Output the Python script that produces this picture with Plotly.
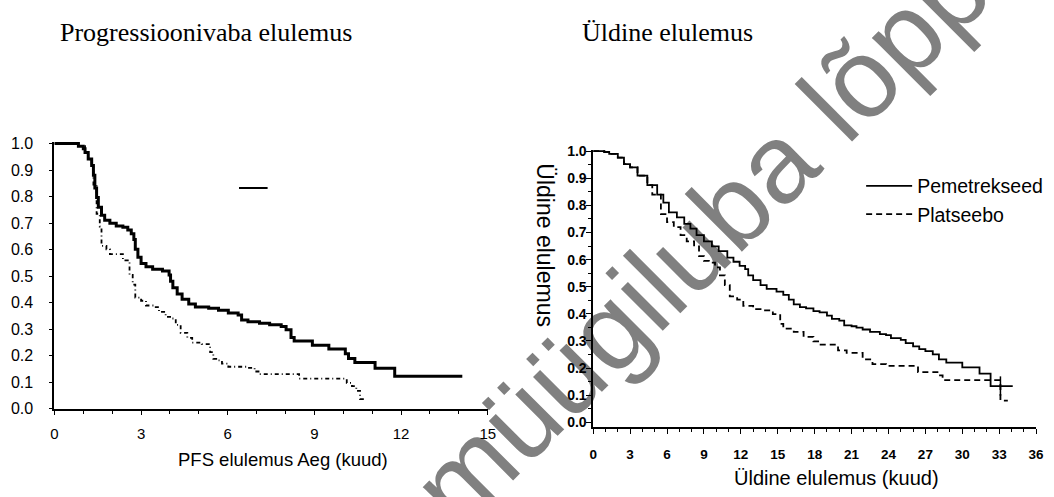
import plotly.graph_objects as go

# ---------------- data ----------------
# Progression-free survival (left panel)
pfs_pem_t = [0, 0.83, 1.0, 1.06, 1.17, 1.29, 1.35, 1.40, 1.46, 1.52,
             1.63, 1.74, 1.92, 2.14, 2.37, 2.54, 2.66, 2.75, 2.80, 2.89,
             3.0, 3.17, 3.4, 3.74, 3.97, 4.02, 4.1, 4.25, 4.42, 4.65,
             4.88, 5.34, 5.68, 6.02, 6.36, 6.48, 6.7, 7.1, 7.45, 7.85,
             8.02, 8.19, 8.3, 8.93, 9.5, 10.07, 10.18, 10.4, 11.1, 11.78,
             14.12]
pfs_pem_s = [1.0, 0.99, 0.98, 0.966, 0.942, 0.917, 0.88, 0.832, 0.796, 0.76,
             0.729, 0.711, 0.699, 0.689, 0.684, 0.674, 0.66, 0.638, 0.601, 0.571,
             0.547, 0.535, 0.526, 0.519, 0.504, 0.48, 0.456, 0.432, 0.413, 0.395,
             0.383, 0.379, 0.371, 0.361, 0.353, 0.334, 0.328, 0.322, 0.316, 0.31,
             0.298, 0.268, 0.255, 0.239, 0.225, 0.207, 0.189, 0.174, 0.152, 0.122,
             0.122]

pfs_pla_t = [0, 0.83, 1.06, 1.17, 1.29, 1.35, 1.46, 1.57, 1.63, 1.8,
             1.92, 2.37, 2.54, 2.6, 2.71, 2.8, 3.0, 3.17, 3.46, 3.62,
             3.85, 4.08, 4.2, 4.37, 4.6, 4.77, 5.1, 5.39, 5.5, 5.68,
             5.8, 6.02, 6.7, 6.93, 7.1, 8.47, 10.12, 10.3, 10.45, 10.58,
             10.8]
pfs_pla_s = [1.0, 0.99, 0.966, 0.94, 0.91, 0.845, 0.735, 0.687, 0.614, 0.601,
             0.583, 0.559, 0.553, 0.504, 0.468, 0.419, 0.407, 0.389, 0.383, 0.365,
             0.346, 0.34, 0.316, 0.286, 0.267, 0.249, 0.243, 0.213, 0.188, 0.182,
             0.17, 0.158, 0.154, 0.14, 0.13, 0.113, 0.097, 0.085, 0.067, 0.036,
             0.036]

# Overall survival (right panel)
os_pem_t = [0, 0.9, 1.3, 2.0, 2.5, 3.0, 3.6, 4.4, 5.2, 5.7,
            6.15, 6.8, 7.4, 7.9, 8.4, 9.0, 9.65, 10.2, 10.9, 11.4,
            11.9, 12.35, 12.6, 13.0, 13.6, 14.1, 14.9, 15.45, 15.9, 16.3,
            16.8, 17.3, 17.9, 18.4, 19.0, 19.4, 20.0, 20.4, 21.0, 21.4,
            21.9, 22.5, 23.3, 23.8, 24.2, 25.0, 25.4, 26.0, 26.5, 27.0,
            27.6, 28.1, 28.7, 30.0, 31.4, 32.3, 34.1]
os_pem_s = [1.0, 0.997, 0.99, 0.976, 0.952, 0.94, 0.91, 0.875, 0.84, 0.81,
            0.774, 0.756, 0.732, 0.714, 0.69, 0.667, 0.649, 0.631, 0.607, 0.592,
            0.577, 0.565, 0.542, 0.524, 0.506, 0.492, 0.482, 0.47, 0.452, 0.435,
            0.425, 0.42, 0.41, 0.405, 0.393, 0.381, 0.375, 0.357, 0.354, 0.349,
            0.342, 0.333, 0.325, 0.321, 0.31, 0.304, 0.292, 0.28, 0.27, 0.262,
            0.25, 0.232, 0.22, 0.202, 0.179, 0.133, 0.133]

os_pla_t = [0, 0.9, 1.3, 2.0, 2.5, 3.0, 3.6, 4.4, 4.8, 5.5,
            6.0, 6.55, 7.1, 7.6, 8.2, 8.6, 9.0, 9.4, 9.9, 10.3,
            10.7, 11.1, 11.7, 12.2, 13.0, 13.6, 14.6, 15.2, 15.45, 16.3,
            17.1, 17.9, 18.4, 19.9, 20.6, 21.9, 22.7, 23.8, 26.4, 28.1,
            28.4, 33.1, 33.7]
os_pla_s = [1.0, 0.997, 0.99, 0.976, 0.952, 0.94, 0.91, 0.875, 0.84, 0.768,
            0.738, 0.72, 0.69, 0.667, 0.649, 0.613, 0.595, 0.589, 0.571, 0.542,
            0.506, 0.464, 0.452, 0.429, 0.417, 0.413, 0.399, 0.363, 0.345, 0.333,
            0.315, 0.298, 0.286, 0.265, 0.256, 0.232, 0.214, 0.208, 0.185, 0.173,
            0.155, 0.08, 0.08]

os_censor_t = [33.1]
os_censor_s = [0.133]

pfs_ticks = [0, 3, 6, 9, 12, 15]
os_ticks = [0, 3, 6, 9, 12, 15, 18, 21, 24, 27, 30, 33, 36]
y_ticks = [0.0, 0.1, 0.2, 0.3, 0.4, 0.5, 0.6, 0.7, 0.8, 0.9, 1.0]

series_names = ["Pemetrekseed", "Platseebo"]
title_left = "Progressioonivaba elulemus"
title_right = "Üldine elulemus"
xlabel_left = "PFS elulemus Aeg (kuud)"
xlabel_right = "Üldine elulemus (kuud)"
ylabel_right = "Üldine elulemus"
watermark = "müügiluba lõppenud"

# ---------------- figure ----------------
W, H = 1054, 497
SANS = "Liberation Sans, Arial, sans-serif"
SERIF = "Liberation Serif, Times New Roman, serif"

def px(x):
    return x / W

def py(y):
    return 1 - y / H

fig = go.Figure()

fig.add_trace(go.Scatter(x=pfs_pem_t, y=pfs_pem_s, mode="lines", line_shape="hv",
                         line=dict(color="black", width=3), showlegend=False,
                         xaxis="x", yaxis="y"))
fig.add_trace(go.Scatter(x=pfs_pla_t, y=pfs_pla_s, mode="lines", line_shape="hv",
                         line=dict(color="black", width=1.8, dash="4px,3px,1px,3px"),
                         showlegend=False, xaxis="x", yaxis="y"))

fig.add_trace(go.Scatter(x=os_pem_t, y=os_pem_s, mode="lines", line_shape="hv",
                         name=series_names[0],
                         line=dict(color="black", width=1.8), xaxis="x2", yaxis="y2"))
fig.add_trace(go.Scatter(x=os_pla_t, y=os_pla_s, mode="lines", line_shape="hv",
                         name=series_names[1],
                         line=dict(color="black", width=1.8, dash="6px,4px"),
                         xaxis="x2", yaxis="y2"))
fig.add_trace(go.Scatter(x=os_censor_t, y=os_censor_s, mode="markers",
                         marker=dict(symbol="line-ns", size=14,
                                     line=dict(color="black", width=1.5)),
                         showlegend=False, xaxis="x2", yaxis="y2"))

axis_common = dict(showgrid=False, zeroline=False, showline=True, linecolor="black",
                   ticks="outside", tickcolor="black")

fig.update_layout(
    width=W, height=H,
    margin=dict(l=0, r=0, t=0, b=0),
    paper_bgcolor="white", plot_bgcolor="rgba(0,0,0,0)",
    xaxis=dict(domain=[px(51), px(489.3)], range=[0, 15], anchor="y",
               tickvals=pfs_ticks, ticklen=4, tickwidth=1.2, linewidth=2,
               minor=dict(dtick=1, ticklen=3, ticks="outside", tickcolor="black"),
               tickfont=dict(family=SANS, size=15, color="black"),
               ticklabelstandoff=6, **axis_common),
    yaxis=dict(domain=[py(415), py(139.4)], range=[0, 1.006], anchor="x",
               tickvals=y_ticks, tickformat=".1f", ticklen=3, tickwidth=1,
               linewidth=2,
               tickfont=dict(family=SANS, size=16, color="black"),
               ticklabelstandoff=13, **axis_common),
    xaxis2=dict(domain=[px(596), px(1044)], range=[0, 36], anchor="y2",
                tickvals=os_ticks, ticklen=5, tickwidth=1.2, linewidth=1.5,
                minor=dict(dtick=1, ticklen=3, ticks="outside", tickcolor="black"),
                tickfont=dict(family=SANS, size=13.5, color="black", weight="bold"),
                ticklabelstandoff=9, **axis_common),
    yaxis2=dict(domain=[py(434), py(147.6)], range=[-0.0178, 1.005], anchor="x2",
                tickvals=y_ticks, tickformat=".1f", ticklen=5, tickwidth=1.2,
                linewidth=1.5,
                minor=dict(dtick=0.05, ticklen=3, ticks="outside", tickcolor="black"),
                tickfont=dict(family=SANS, size=14, color="black", weight="bold"),
                ticklabelstandoff=-3, **axis_common),
    legend=dict(x=px(867), y=py(165), xanchor="left", yanchor="top",
                bgcolor="rgba(0,0,0,0)", borderwidth=0,
                font=dict(family=SANS, size=19.5, color="black"),
                tracegroupgap=0, itemwidth=46),
    showlegend=True,
)

annotations = [
    dict(text=title_left, x=px(204), y=py(26), font=dict(family=SERIF, size=26, color="black")),
    dict(text=title_right, x=px(671), y=py(26), font=dict(family=SERIF, size=26, color="black")),
    dict(text=xlabel_left, x=px(282), y=py(468), font=dict(family=SANS, size=18.5, color="black")),
    dict(text=xlabel_right, x=px(842), y=py(487), font=dict(family=SANS, size=20, color="black")),
    dict(text=ylabel_right, x=px(547), y=py(246), textangle=90,
         font=dict(family=SANS, size=23, color="black")),
]
for a in annotations:
    a.update(xref="paper", yref="paper", showarrow=False, xanchor="center", yanchor="middle")
fig.update_layout(annotations=annotations)

# stray legend fragment in the left panel
fig.add_shape(type="line", xref="x", yref="y", x0=6.39, x1=7.38, y0=0.832, y1=0.832,
              line=dict(color="black", width=2))

# watermark (drawn beneath the plot content)
fig.add_shape(type="rect", xref="paper", yref="paper", layer="below",
              x0=px(781), x1=px(791), y0=py(145), y1=py(135),
              line=dict(width=0), fillcolor="rgba(0,0,0,0)",
              label=dict(text=watermark, textangle=-45, textposition="middle center",
                         font=dict(family=SANS, size=112, color="#808080")))

fig.write_html("out.html", include_plotlyjs=True, full_html=True,
               config={"displayModeBar": False},
               post_script="document.body.style.margin='0';document.body.style.overflow='hidden';")
